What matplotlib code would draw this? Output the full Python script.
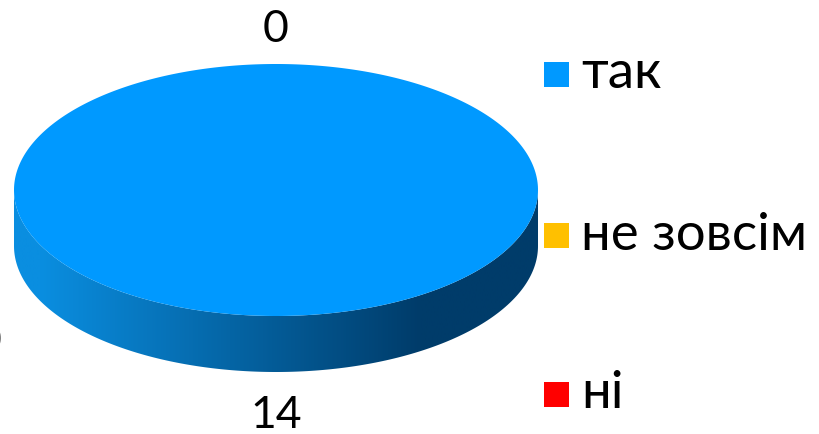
import numpy as np
import matplotlib
matplotlib.use('Agg')
import matplotlib.pyplot as plt
from matplotlib.patches import Polygon, Rectangle

categories = ['так', 'не зовсім', 'ні']
values = [14, 0, 0]
colors = ['#0099FF', '#FFC000', '#FF0000']

plt.rcParams['font.family'] = ['Lato', 'Noto Sans', 'DejaVu Sans']

fig = plt.figure(figsize=(8.19, 4.34), dpi=100)
ax = fig.add_axes([0, 0, 1, 1])
ax.set_xlim(0, 819)
ax.set_ylim(434, 0)
ax.axis('off')

# ellipse geometry in pixels (y down)
cx, cy, rx, ry, depth = 276, 190, 262, 126, 56

total = sum(values)
cum = 0
for val, col in zip(values, colors):
    t1 = -np.pi / 2 + 2 * np.pi * cum / total
    t2 = -np.pi / 2 + 2 * np.pi * (cum + val) / total
    cum += val
    if val == 0:
        continue
    # side (only the front half is visible: t in [0, pi])
    for k in range(-1, 2):
        a = max(t1, 0 + 2 * np.pi * k)
        b = min(t2, np.pi + 2 * np.pi * k)
        if b <= a:
            continue
        t = np.linspace(a, b, 200)
        xs = cx + rx * np.cos(t)
        ys = cy + ry * np.sin(t)
        pts = np.concatenate([np.c_[xs, ys], np.c_[xs[::-1], ys[::-1] + depth]])
        side = Polygon(pts, closed=True, facecolor='none', edgecolor='none')
        ax.add_patch(side)
        # horizontal shading light -> dark
        grad = np.clip((np.linspace(0, 819, 400) - 40) / 380, 0, 1)
        c0 = np.array([0x0A, 0x8E, 0xE0]) / 255
        c1 = np.array([0x00, 0x3C, 0x6A]) / 255
        img = c0[None, :] * (1 - grad[:, None]) + c1[None, :] * grad[:, None]
        im = ax.imshow(img[None, :, :], extent=(0, 819, 434, 0), aspect='auto',
                       interpolation='bilinear', zorder=1)
        im.set_clip_path(side)
    # top face
    t = np.linspace(t1, t2, 400)
    pts = np.c_[cx + rx * np.cos(t), cy + ry * np.sin(t)]
    if val != total:
        pts = np.vstack([[cx, cy], pts])
    ax.add_patch(Polygon(pts, closed=True, facecolor=col, edgecolor='none', zorder=2))

ax.set_xlim(0, 819)
ax.set_ylim(434, 0)

# data labels
ax.text(cx, 415, str(values[0]), ha='center', va='center', fontsize=32, color='black')
ax.text(cx, 30, str(values[1]), ha='center', va='center', fontsize=32, color='black')
ax.text(-11, 341, str(values[2]), ha='center', va='center', fontsize=32, color='black', clip_on=False)

# legend
leg_y = [74, 235, 394]
for cat, col, y in zip(categories, colors, leg_y):
    ax.add_patch(Rectangle((544, y - 12.5), 25, 25, facecolor=col, edgecolor='none'))
    ax.text(581, y, cat, ha='left', va='center', fontsize=38, color='black')

fig.savefig('out.png', dpi=100)
